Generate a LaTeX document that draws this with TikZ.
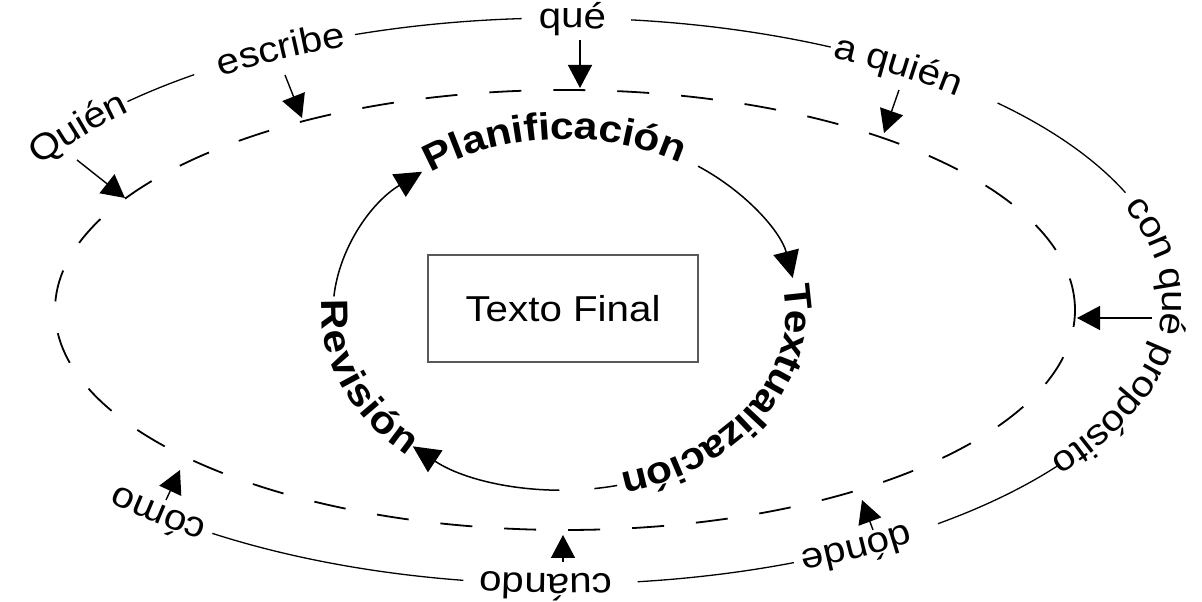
\documentclass[tikz,border=0pt]{standalone}
\usepackage{fontspec}
\setmainfont{Liberation Sans}[FakeStretch=1.12]
\usetikzlibrary{decorations.text,arrows.meta}
\newcommand\outfont{\fontsize{36}{40}\selectfont}
\newcommand\infont{\fontsize{38}{42}\selectfont\bfseries}
% outer word: #1 centre angle, #2 half span, #3 text (clockwise, tops outward)
\newcommand\outword[3]{\path[decorate,decoration={text along path,text align=center,raise=-10pt,text={|\outfont|#3}}]
  (oc) ++({#1+#2}:611 and 283) arc[start angle={#1+#2},end angle={#1-#2},x radius=611,y radius=283];}
% outer solid piece between two angles
\newcommand\outline[2]{\draw[outerline] (oc) ++(#1:611 and 283) arc[start angle=#1,end angle=#2,x radius=611,y radius=283];}
\tikzset{
  outerline/.style={line width=1.3pt,black},
  ring/.style={line width=1.8pt,black,dash pattern=on 32pt off 32pt},
  inarrow/.style={line width=1.5pt,black,-{Triangle[length=27pt,width=26pt]}},
  outarrow/.style={line width=1.4pt,black,-{Triangle[length=23pt,width=24pt]}},
  finalbox/.style={draw=black!65,line width=2pt,minimum width=270pt,minimum height=107pt,font=\fontsize{36}{40}\selectfont,inner sep=0pt},
}
\begin{document}
\begin{tikzpicture}[x=1pt,y=1pt]
\useasboundingbox (0,0) rectangle (1202,602);
\coordinate (oc) at (561,301);
\coordinate (dc) at (565,292);
\coordinate (ic) at (565,290);

% dashed middle ring
\draw[ring] (dc) ellipse[x radius=510,y radius=220];

% outer ring: words and pieces of line
\outword{144.8}{20}{Quién}
\outline{135.2}{126.9}
\outword{118.7}{20}{escribe}
\outline{109.7}{93.7}
\outword{88.9}{15}{qué}
\outline{83.4}{63.8}
\outword{54.8}{20}{a quién}
\outline{44.4}{22.5}
\outword{-6.5}{40}{con qué propósito}
\outline{-35.5}{-51.9}
\outword{-59.6}{20}{dónde}
\outline{-67.6}{-82.8}
\outword{-91.5}{20}{cuándo}
\outline{-99.2}{-124.8}
\outword{-133.3}{20}{cómo}

% arrows from the outer words to the dashed ring
\coordinate (quienA) at (77,442);  \coordinate (quienB) at (125,404);
\coordinate (escA) at (285,527);   \coordinate (escB) at (302,484);
\coordinate (queA) at (580,562);   \coordinate (queB) at (580,514);
\coordinate (aqA) at (899,512);    \coordinate (aqB) at (884,469);
\coordinate (cqA) at (1152,284);   \coordinate (cqB) at (1077,284);
\coordinate (dondeA) at (873,72);  \coordinate (dondeB) at (862,102);
\coordinate (cuandoA) at (563,40); \coordinate (cuandoB) at (563,67);
\coordinate (comoA) at (166,102);  \coordinate (comoB) at (180,132);
\draw[outarrow] (quienA) -- (quienB);
\draw[outarrow] (escA) -- (escB);
\draw[outarrow] (queA) -- (queB);
\draw[outarrow] (aqA) -- (aqB);
\draw[outarrow] (cqA) -- (cqB);
\draw[outarrow] (dondeA) -- (dondeB);
\draw[outarrow] (cuandoA) -- (cuandoB);
\draw[outarrow] (comoA) -- (comoB);

% inner cycle
\path[decorate,decoration={text along path,text align=center,raise=-5pt,text={|\infont|Planificación}}]
  (ic) ++(135:232 and 178) arc[start angle=135,end angle=51,x radius=232,y radius=178];
\path[decorate,decoration={text along path,text align=center,raise=-11pt,text={|\infont|Textualización}}]
  (ic) ++(17.5:232 and 178) arc[start angle=17.5,end angle=-82.5,x radius=232,y radius=178];
\path[decorate,decoration={text along path,text align=center,raise=-11pt,text={|\infont|Revisión}}]
  (ic) ++(168:232 and 178) arc[start angle=168,end angle=236,x radius=232,y radius=178];
\draw[inarrow] (ic) ++(175:232 and 178) arc[start angle=175,end angle=128,x radius=232,y radius=178];
\draw[inarrow] (ic) ++(55:232 and 178) arc[start angle=55,end angle=11,x radius=232,y radius=178];
\draw[inarrow,dash pattern=on 23pt off 35pt on 2000pt] (ic) ++(-77:232 and 178) arc[start angle=-77,end angle=-131,x radius=232,y radius=178];

% centre
\node[finalbox] (final) at (563,293.5) {Texto Final};
\end{tikzpicture}
\end{document}
